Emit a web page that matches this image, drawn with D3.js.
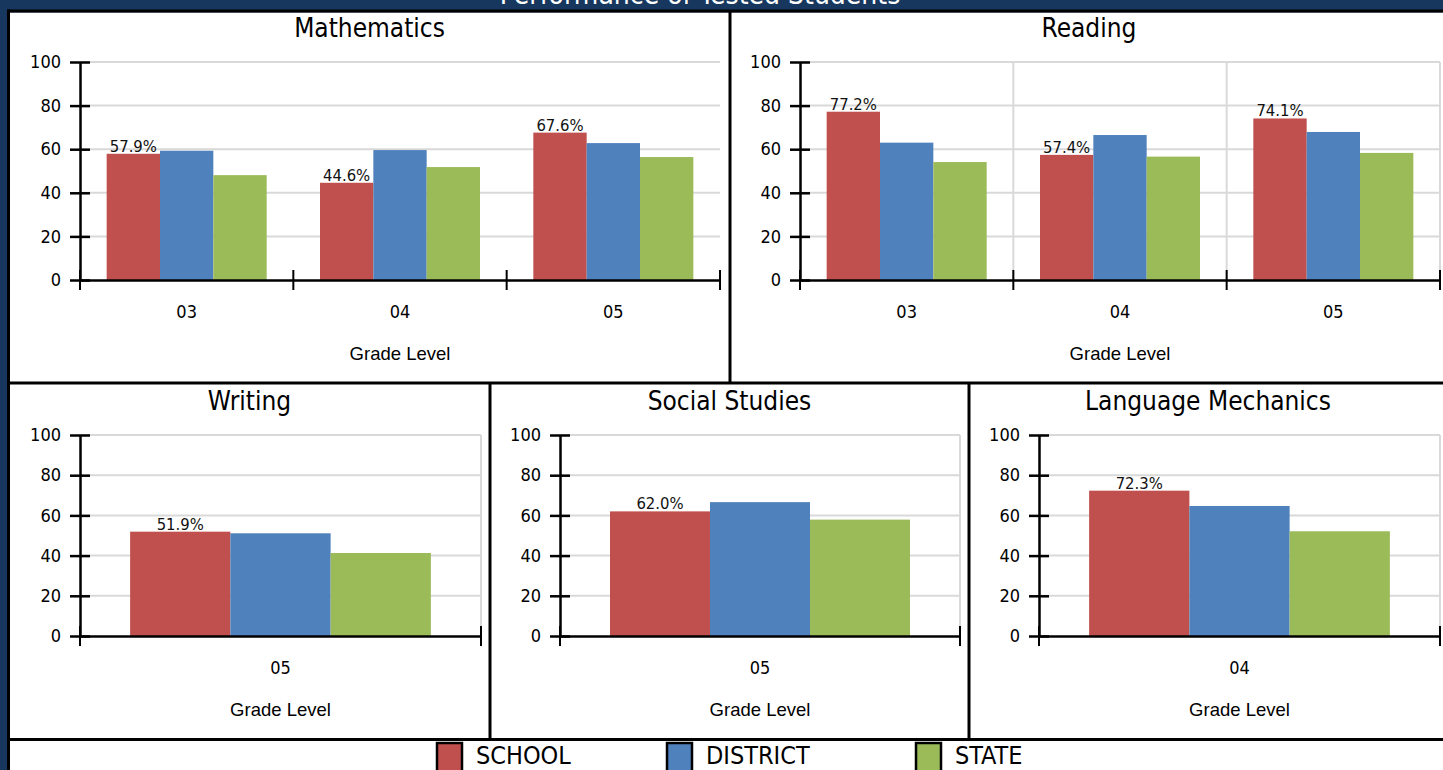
<!DOCTYPE html>
<html><head><meta charset="utf-8">
<script src="https://cdn.jsdelivr.net/npm/d3@7"></script>
<style>
html,body{margin:0;padding:0;background:#17375e;overflow:hidden}
svg{display:block}
.tah{font-family:"DejaVu Sans Condensed","DejaVu Sans",sans-serif;font-stretch:condensed}
</style></head><body>
<svg id="chart" width="1443" height="770"></svg>
<script>
// ---------- DATA ----------
const chartTitle = "Performance of Tested Students";
const seriesNames = ["SCHOOL", "DISTRICT", "STATE"];
const yTickValues = [0, 20, 40, 60, 80, 100];
const xAxisTitle = "Grade Level";

const mathGrades = ["03", "04", "05"];
const mathSchool = [57.9, 44.6, 67.6];
const mathDistrict = [59.3, 59.6, 62.8];
const mathState = [48.1, 51.8, 56.4];

const readingGrades = ["03", "04", "05"];
const readingSchool = [77.2, 57.4, 74.1];
const readingDistrict = [63.0, 66.5, 67.9];
const readingState = [54.1, 56.6, 58.3];

const writingGrades = ["05"];
const writingSchool = [51.9];
const writingDistrict = [51.1];
const writingState = [41.3];

const socialGrades = ["05"];
const socialSchool = [62.0];
const socialDistrict = [66.6];
const socialState = [57.9];

const langGrades = ["04"];
const langSchool = [72.3];
const langDistrict = [64.7];
const langState = [52.1];

// ---------- STYLE / LAYOUT ----------
const colors = ["#c0504d", "#4f81bd", "#9bbb59"];
const gridColor = "#d9d9d9";

const panels = [
  {title: "Mathematics", grades: mathGrades, vals: [mathSchool, mathDistrict, mathState],
   cx: 369.5, titleY: 37, x0: 80, x1: 720, yTop: 62, yZero: 280, vgrid: false},
  {title: "Reading", grades: readingGrades, vals: [readingSchool, readingDistrict, readingState],
   cx: 1089, titleY: 37, x0: 800, x1: 1440, yTop: 62, yZero: 280, vgrid: true},
  {title: "Writing", grades: writingGrades, vals: [writingSchool, writingDistrict, writingState],
   cx: 249.5, titleY: 410, x0: 80, x1: 481, yTop: 435, yZero: 636, vgrid: true},
  {title: "Social Studies", grades: socialGrades, vals: [socialSchool, socialDistrict, socialState],
   cx: 729.5, titleY: 410, x0: 560, x1: 960, yTop: 435, yZero: 636, vgrid: true},
  {title: "Language Mechanics", grades: langGrades, vals: [langSchool, langDistrict, langState],
   cx: 1208, titleY: 410, x0: 1039, x1: 1440, yTop: 435, yZero: 636, vgrid: true}
];

const svg = d3.select("#chart");

// background panels
svg.append("rect").attr("x", 10).attr("y", 12.5).attr("width", 1440).attr("height", 770).attr("fill", "#fff");
const borderLines = [
  [7, 11, 1450, 11], [7, 383, 1450, 383], [7, 739.5, 1450, 739.5],
  [8.5, 9.5, 8.5, 775], [730, 11, 730, 383], [490, 383, 490, 739.5], [969, 383, 969, 739.5]
];
svg.append("g").selectAll("line").data(borderLines).join("line")
  .attr("x1", d => d[0]).attr("y1", d => d[1]).attr("x2", d => d[2]).attr("y2", d => d[3])
  .attr("stroke", "#000").attr("stroke-width", 3);

// main (cut-off) title
svg.append("text").attr("class", "tah").attr("x", 700).attr("y", 4)
  .attr("text-anchor", "middle").attr("fill", "#fff").attr("font-size", 28).text(chartTitle);

panels.forEach(p => {
  const g = svg.append("g");
  const y = d3.scaleLinear().domain([0, 100]).range([p.yZero, p.yTop]);
  const x = d3.scaleBand().domain(p.grades).range([p.x0, p.x1]).paddingInner(0).paddingOuter(0);
  const bw = x.bandwidth();
  const xs = d3.scaleBand().domain(seriesNames).range([bw * 0.125, bw * 0.875]).padding(0);

  // title
  g.append("text").attr("class", "tah").attr("x", p.cx).attr("y", p.titleY)
    .attr("text-anchor", "middle").attr("font-size", 26).attr("fill", "#000").text(p.title);

  // horizontal gridlines
  g.append("g").selectAll("line").data(yTickValues.filter(v => v > 0)).join("line")
    .attr("x1", p.x0).attr("x2", p.x1).attr("y1", d => y(d)).attr("y2", d => y(d))
    .attr("stroke", gridColor).attr("stroke-width", 2);
  // vertical gridlines
  if (p.vgrid) {
    const bounds = p.grades.map(d => x(d) + bw);
    g.append("g").selectAll("line").data(bounds).join("line")
      .attr("x1", d => d).attr("x2", d => d).attr("y1", y(100)).attr("y2", y(0))
      .attr("stroke", gridColor).attr("stroke-width", 2);
  }

  // bars
  seriesNames.forEach((s, si) => {
    g.append("g").selectAll("rect").data(p.grades).join("rect")
      .attr("x", d => x(d) + xs(s))
      .attr("width", xs.bandwidth())
      .attr("y", (d, i) => y(p.vals[si][i]))
      .attr("height", (d, i) => y(0) - y(p.vals[si][i]))
      .attr("fill", colors[si]);
  });

  // school value labels
  g.append("g").selectAll("text").data(p.grades).join("text")
    .attr("class", "tah")
    .attr("x", d => x(d) + xs("SCHOOL") + xs.bandwidth() / 2)
    .attr("y", (d, i) => y(p.vals[0][i]) - 2)
    .attr("text-anchor", "middle").attr("font-size", 16.5).attr("fill", "#111")
    .text((d, i) => p.vals[0][i].toFixed(1) + "%");

  // y axis
  const ya = g.append("g").attr("transform", `translate(${p.x0},0)`)
    .call(d3.axisLeft(y).tickValues(yTickValues).tickSizeInner(10).tickSizeOuter(0).tickPadding(9));
  ya.select(".domain").attr("stroke", "#000").attr("stroke-width", 2.5);
  ya.selectAll(".tick line").attr("x1", -10).attr("x2", 10).attr("stroke", "#000").attr("stroke-width", 2.5);
  ya.selectAll(".tick text").attr("class", "tah").attr("font-size", 18).attr("fill", "#000").attr("font-family", null);

  // x axis
  const xa = g.append("g").attr("transform", `translate(0,${p.yZero})`)
    .call(d3.axisBottom(x).tickSize(0).tickPadding(25));
  xa.select(".domain").attr("stroke", "#000").attr("stroke-width", 2.5);
  xa.selectAll(".tick text").attr("class", "tah").attr("font-size", 18).attr("fill", "#000").attr("font-family", null);
  const xb = [p.x0].concat(p.grades.map(d => x(d) + bw));
  g.append("g").selectAll("line").data(xb).join("line")
    .attr("x1", d => d).attr("x2", d => d).attr("y1", y(0) - 10).attr("y2", y(0) + 10)
    .attr("stroke", "#000").attr("stroke-width", 2);

  // x axis title
  g.append("text").attr("x", (p.x0 + p.x1) / 2).attr("y", p.yZero + 80)
    .attr("text-anchor", "middle").attr("font-family", "'Liberation Sans', Arial, sans-serif")
    .attr("font-size", 18.5).attr("fill", "#000").text(xAxisTitle);
});

// legend
const legendX = [437, 667, 916];
const lg = svg.append("g").selectAll("g").data(seriesNames).join("g")
  .attr("transform", (d, i) => `translate(${legendX[i]},743)`);
lg.append("rect").attr("width", 25).attr("height", 32).attr("fill", (d, i) => colors[i])
  .attr("stroke", "#000").attr("stroke-width", 2.5);
lg.append("text").attr("class", "tah").attr("x", 39).attr("y", 21).attr("font-size", 25)
  .attr("fill", "#000").text(d => d);
</script>
</body></html>
